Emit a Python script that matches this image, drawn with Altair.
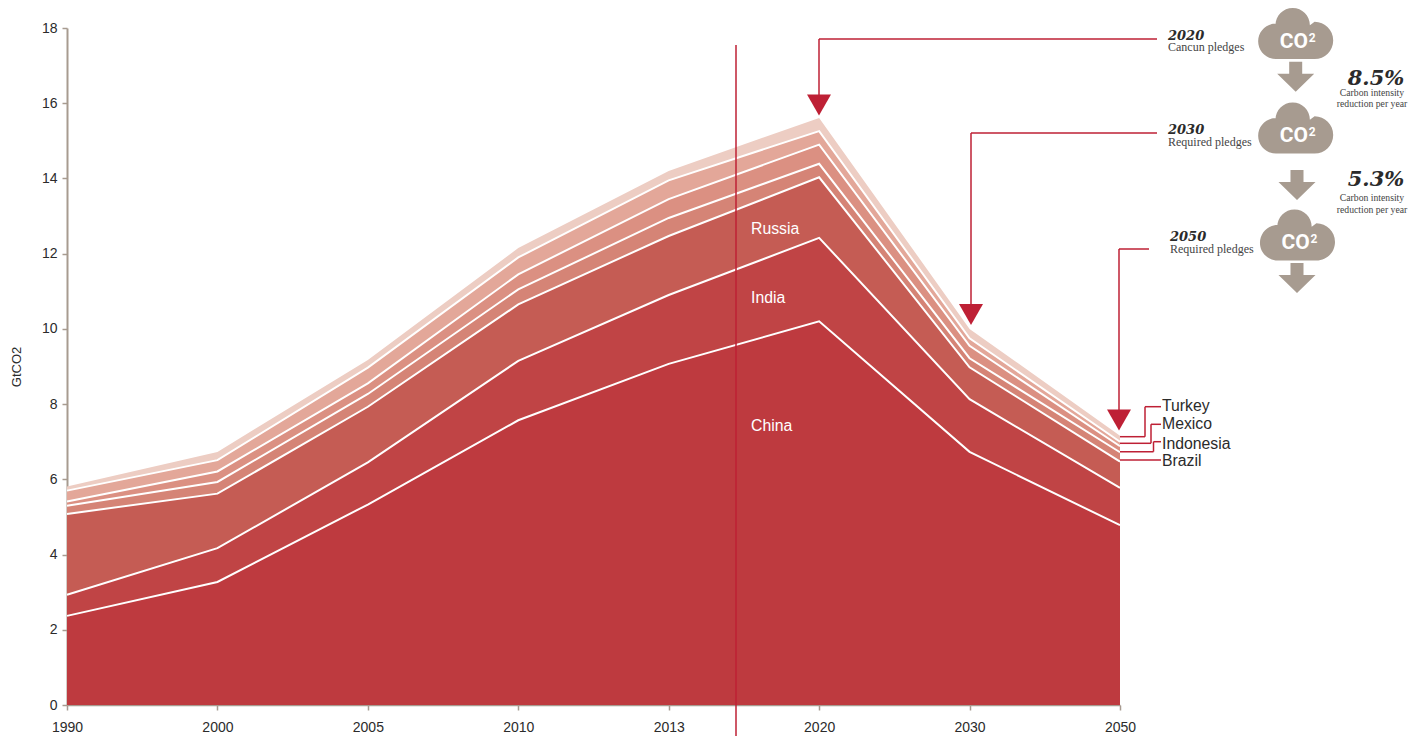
import altair as alt
import pandas as pd

years = ["1990", "2000", "2005", "2010", "2013", "2020", "2030", "2050"]
series_names = ["China", "India", "Russia", "Brazil", "Indonesia", "Mexico", "Turkey"]
china = [2.37, 3.27, 5.33, 7.57, 9.07, 10.20, 6.73, 4.78]
india = [0.56, 0.90, 1.12, 1.58, 1.83, 2.22, 1.40, 0.99]
russia = [2.15, 1.45, 1.48, 1.50, 1.57, 1.61, 0.85, 0.70]
brazil = [0.22, 0.31, 0.34, 0.40, 0.48, 0.36, 0.24, 0.25]
indonesia = [0.11, 0.28, 0.28, 0.40, 0.50, 0.51, 0.33, 0.16]
mexico = [0.29, 0.30, 0.42, 0.45, 0.50, 0.36, 0.20, 0.12]
turkey = [0.11, 0.22, 0.20, 0.25, 0.25, 0.35, 0.25, 0.16]
colors = ["#BE3A3F", "#C04445", "#C55C54", "#D58476", "#DB9082", "#E3A799", "#EDCDC3"]

RED = "#BE2035"
GREY = "#A79B90"
AXIS = "#A79B90"
INK = "#2B2B2B"
SANS = "Liberation Sans"
SERIF = "Liberation Serif"
SLAB = "DejaVu Serif"

# plot-area origin in the page, used to place the outside annotations
OX, OY = 67, 28
W, H = 1053, 677

rows = []
tops = [0.0] * len(years)
for name, vals in zip(series_names, [china, india, russia, brazil, indonesia, mexico, turkey]):
    for i, y in enumerate(years):
        rows.append({"year": y, "series": name, "lo": tops[i], "hi": tops[i] + vals[i]})
        tops[i] += vals[i]
df = pd.DataFrame(rows)

x_enc = alt.X("year:O", sort=years,
              scale=alt.Scale(type="point", domain=years, padding=0),
              axis=alt.Axis(title=None, labelAngle=0, labelFont=SANS, labelFontSize=14,
                            labelColor=INK, labelPadding=10, tickColor=AXIS, tickSize=5,
                            tickWidth=1.5, domainColor=AXIS, domainWidth=1.5, grid=False,
                            labelOverlap=False))
y_enc = alt.Y("hi:Q", scale=alt.Scale(domain=[0, 18], nice=False),
              axis=alt.Axis(title="GtCO2", values=list(range(0, 19, 2)), labelFont=SANS,
                            labelFontSize=14, labelColor=INK, labelPadding=5, tickColor=AXIS,
                            tickSize=5, tickWidth=1.5, domainColor=AXIS, domainWidth=2,
                            grid=False, titleFont=SANS, titleFontSize=13, titleColor=INK,
                            titleFontWeight="normal", titlePadding=18))

areas = alt.Chart(df).mark_area(opacity=1, interpolate="linear").encode(
    x=x_enc, y=y_enc, y2="lo:Q",
    color=alt.Color("series:N", scale=alt.Scale(domain=series_names, range=colors), legend=None),
)
lines = alt.Chart(df[df.series != "Turkey"]).mark_line(color="white", strokeWidth=2, interpolate="linear").encode(
    x=alt.X("year:O", sort=years), y=alt.Y("hi:Q"), detail="series:N")


def rule(pts, color=RED, width=1.5):
    """Polyline through page positions."""
    out = []
    for (a, b), (c, d) in zip(pts, pts[1:]):
        out.append(alt.Chart(pd.DataFrame({"k": [0]})).mark_rule(color=color, strokeWidth=width).encode(
            x=alt.value(a - OX), x2=alt.value(c - OX), y=alt.value(b - OY), y2=alt.value(d - OY)))
    return out


def label(txt, px, py, size, font=SANS, color=INK, bold=False, italic=False, align="left"):
    return alt.Chart(pd.DataFrame({"t": [txt]})).mark_text(
        align=align, baseline="middle", font=font, fontSize=size, color=color,
        fontWeight="bold" if bold else "normal", fontStyle="italic" if italic else "normal",
    ).encode(x=alt.value(px - OX), y=alt.value(py - OY), text="t:N")


def glyph(path, px, py, width, color):
    return alt.Chart(pd.DataFrame({"k": [0]})).mark_point(
        shape=path, size=width * width, filled=True, opacity=1, color=color, strokeWidth=0,
    ).encode(x=alt.value(px - OX), y=alt.value(py - OY))


def norm(half, cmds):
    return " ".join(c if isinstance(c, str) else f"{c / half:.4f}" for c in cmds)


CLOUD = norm(37.5, ["M", -19.8, 25.5, "A", 17.75, 17.75, "0 0 1", -19.8, -10, "L", -20.2, -8.3,
                    "A", 17.2, 17.2, "0 0 1", 14.2, -8.3, "L", 18.9, -11.7,
                    "A", 18.6, 18.6, "0 0 1", 18.9, 25.5, "Z"])
DOWN = norm(18.5, ["M", -6.5, -15, "L", 6.5, -15, "L", 6.5, -3, "L", 18.5, -3,
                   "L", 0, 15, "L", -18.5, -3, "L", -6.5, -3, "Z"])
TRI = "M-1,-0.87 L1,-0.87 L0,0.87 Z"

layers = [areas, lines]
layers += rule([(736, 45), (736, 736)])
layers += rule([(1157, 39), (819, 39), (819, 100)])
layers += rule([(1157, 133), (971, 133), (971, 310)])
layers += rule([(1149, 249), (1119, 249), (1119, 415)])
layers += [glyph(TRI, 819, 105, 24, RED), glyph(TRI, 971, 314.5, 24, RED), glyph(TRI, 1119, 420, 24, RED)]
layers += rule([(1120, 436.7), (1145, 436.7), (1145, 406.7), (1161, 406.7)])
layers += rule([(1120, 443.3), (1151, 443.3), (1151, 424.3), (1161, 424.3)])
layers += rule([(1120, 451.7), (1153.5, 451.7), (1153.5, 441.7), (1161, 441.7)])
layers += rule([(1120, 460), (1161, 460)])

BODY = "#444444"
layers += [
    label("China", 751, 426, 15.8, color="white"),
    label("India", 751, 298, 15.8, color="white"),
    label("Russia", 751, 229, 15.8, color="white"),
    label("Turkey", 1162, 406, 15.8),
    label("Mexico", 1162, 424, 15.8),
    label("Indonesia", 1162, 444, 15.8),
    label("Brazil", 1162, 461, 15.8),
    label("2020", 1168, 35.5, 13, font=SLAB, bold=True, italic=True),
    label("Cancun pledges", 1168, 47, 12, font=SERIF, color=BODY),
    label("2030", 1168, 129.5, 13, font=SLAB, bold=True, italic=True),
    label("Required pledges", 1168, 142, 12, font=SERIF, color=BODY),
    label("2050", 1170, 236.5, 13, font=SLAB, bold=True, italic=True),
    label("Required pledges", 1170, 248.5, 12, font=SERIF, color=BODY),
    label("8.5%", 1376, 78.5, 21, font=SLAB, bold=True, italic=True, align="center"),
    label("Carbon intensity", 1372, 93, 9.7, font=SERIF, color=BODY, align="center"),
    label("reduction per year", 1372, 103.5, 9.7, font=SERIF, color=BODY, align="center"),
    label("5.3%", 1376, 180, 21, font=SLAB, bold=True, italic=True, align="center"),
    label("Carbon intensity", 1372, 198, 9.7, font=SERIF, color=BODY, align="center"),
    label("reduction per year", 1372, 210, 9.7, font=SERIF, color=BODY, align="center"),
]
for cx, cy in [(1295.7, 33.5), (1295.7, 128), (1297.5, 235)]:
    layers += [
        glyph(CLOUD, cx, cy, 75, GREY),
        label("CO", cx - 16, cy + 8, 21, font="Roboto", color="white", bold=True),
        label("2", cx + 13, cy + 4, 12, font="Roboto", color="white", bold=True),
    ]
for cx, cy in [(1295.7, 76.7), (1297, 185), (1297, 278)]:
    layers.append(glyph(DOWN, cx, cy, 37, GREY))

chart = alt.layer(*layers).properties(
    width=W, height=H, autosize=alt.AutoSizeParams(type="none"),
    padding={"left": OX - 8, "top": OY - 8, "right": 1400 - (OX - 8) - W, "bottom": 728 - (OY - 8) - H},
    background="white",
).configure_view(stroke=None)

chart.save("out.html", embed_options={"renderer": "svg", "actions": False})
